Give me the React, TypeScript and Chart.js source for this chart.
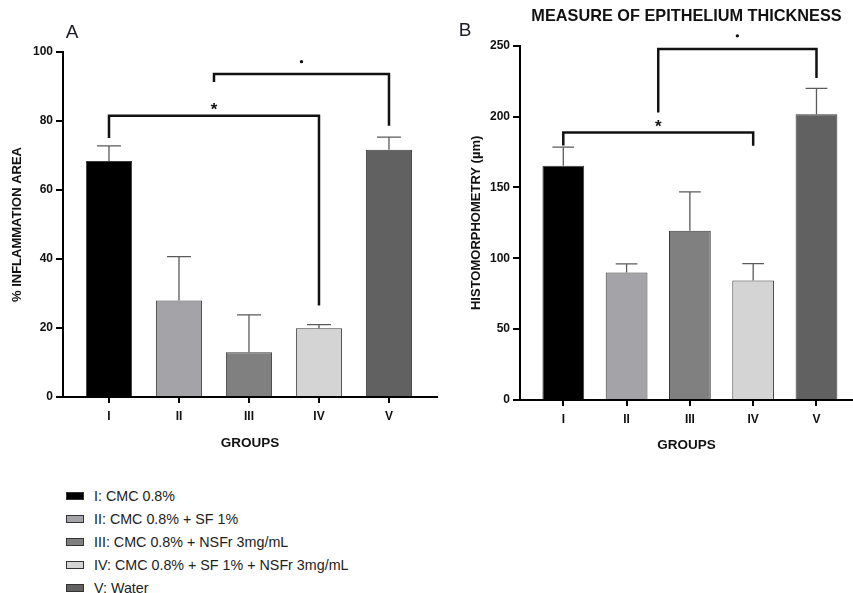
import React, { useEffect, useRef } from "react";
import { Chart, registerables } from "chart.js";

Chart.register(...registerables);
Chart.defaults.font.family = "'Liberation Sans', Arial, sans-serif";
Chart.defaults.color = "#111";

// ---------- data ----------
const groups = ["I", "II", "III", "IV", "V"];
const legendLabels = [
  "I: CMC 0.8%",
  "II: CMC 0.8% + SF 1%",
  "III: CMC 0.8% + NSFr 3mg/mL",
  "IV: CMC 0.8% + SF 1% + NSFr 3mg/mL",
  "V: Water",
];
const groupColors = ["#000000", "#a3a3a8", "#808080", "#d4d4d4", "#616161"];

const inflammationMean = [68.4, 28.0, 13.0, 19.9, 71.7];
const inflammationErr = [4.4, 12.7, 10.8, 1.1, 3.6];
const inflammationTicks = [0, 20, 40, 60, 80, 100];

const thicknessMean = [165.3, 89.9, 119.4, 84.3, 201.7];
const thicknessErr = [13.1, 6.1, 27.5, 12.0, 18.2];
const thicknessTicks = [0, 50, 100, 150, 200, 250];

// significance brackets (group index positions, values in axis units)
const inflammationBrackets = [
  { from: 0, to: 3, level: 81.5, leftEnd: 75.1, rightEnd: 26.5, mark: "*", markAt: 84.6 },
  { from: 1.5, to: 4, level: 93.6, leftEnd: 91.3, rightEnd: 78.6, mark: "•", markAt: 97.2 },
];
const thicknessBrackets = [
  { from: 0, to: 3, level: 188.8, leftEnd: 179.6, rightEnd: 179.4, mark: "*", markAt: 195.6 },
  { from: 1.5, to: 4, level: 247.7, leftEnd: 202.9, rightEnd: 227.2, mark: "•", markAt: 257 },
];

// ---------- plugins ----------
function errorBarPlugin(means: number[], errs: number[]) {
  return {
    id: "errorBars",
    afterDatasetsDraw(chart: any) {
      const { ctx } = chart;
      const xs = chart.scales.x;
      const ys = chart.scales.y;
      const meta = chart.getDatasetMeta(0);
      ctx.save();
      ctx.strokeStyle = "#5a5a5a";
      ctx.lineWidth = 1.3;
      means.forEach((m, i) => {
        const x = xs.getPixelForValue(i);
        const yb = ys.getPixelForValue(m);
        const yt = ys.getPixelForValue(m + errs[i]);
        const bw = meta.data[i] ? meta.data[i].width : 40;
        const half = bw * 0.26;
        ctx.beginPath();
        ctx.moveTo(x, yb);
        ctx.lineTo(x, yt);
        ctx.moveTo(x - half, yt);
        ctx.lineTo(x + half, yt);
        ctx.stroke();
      });
      ctx.restore();
    },
  };
}

function bracketPlugin(brackets: any[]) {
  return {
    id: "brackets",
    afterDraw(chart: any) {
      const { ctx } = chart;
      const xs = chart.scales.x;
      const ys = chart.scales.y;
      ctx.save();
      ctx.strokeStyle = "#111";
      ctx.fillStyle = "#111";
      ctx.lineWidth = 2.5;
      ctx.lineJoin = "miter";
      brackets.forEach((b) => {
        const x1 = xs.getPixelForValue(b.from);
        const x2 = xs.getPixelForValue(b.to);
        const y = ys.getPixelForValue(b.level);
        ctx.beginPath();
        ctx.moveTo(x1, ys.getPixelForValue(b.leftEnd));
        ctx.lineTo(x1, y);
        ctx.lineTo(x2, y);
        ctx.lineTo(x2, ys.getPixelForValue(b.rightEnd));
        ctx.stroke();
        const mx = xs.getPixelForValue((b.from + b.to) / 2);
        const my = ys.getPixelForValue(b.markAt);
        if (b.mark === "*") {
          ctx.font = "bold 17px 'Liberation Sans', Arial, sans-serif";
          ctx.textAlign = "center";
          ctx.textBaseline = "alphabetic";
          ctx.fillText("*", mx, my + 9.5);
        } else {
          ctx.beginPath();
          ctx.arc(mx, my, 1.7, 0, Math.PI * 2);
          ctx.fill();
        }
      });
      ctx.restore();
    },
  };
}

function letterPlugin(letter: string, x: number, y: number) {
  return {
    id: "panelLetter",
    afterDraw(chart: any) {
      const { ctx } = chart;
      ctx.save();
      ctx.font = "19px 'Liberation Sans', Arial, sans-serif";
      ctx.fillStyle = "#1c1c28";
      ctx.textAlign = "center";
      ctx.textBaseline = "middle";
      ctx.fillText(letter, x, y);
      ctx.restore();
    },
  };
}

function makeConfig(opts: {
  means: number[];
  errs: number[];
  ticks: number[];
  yMax: number;
  xMin: number;
  xMax: number;
  yTitle: string;
  yTitlePad: number;
  yWidth: number;
  xHeight: number;
  xTitlePad: number;
  padding: any;
  title?: any;
  brackets: any[];
  letter: string;
  letterX: number;
  letterY: number;
}) {
  const tickFont = { size: 12, weight: "bold" as const };
  return {
    type: "bar" as const,
    data: {
      datasets: [
        {
          data: opts.means.map((v, i) => ({ x: i, y: v })),
          backgroundColor: groupColors,
          borderColor: "#3a3a3a",
          borderWidth: 1,
          barPercentage: 0.66,
          categoryPercentage: 1,
        },
      ],
    },
    options: {
      responsive: false,
      animation: false as const,
      layout: { padding: opts.padding },
      plugins: {
        legend: { display: false },
        tooltip: { enabled: false },
        title: opts.title || { display: false },
      },
      scales: {
        x: {
          type: "linear" as const,
          min: opts.xMin,
          max: opts.xMax,
          offset: false,
          afterBuildTicks: (s: any) => {
            s.ticks = groups.map((_, i) => ({ value: i }));
          },
          afterFit: (s: any) => {
            s.height = opts.xHeight;
          },
          ticks: {
            callback: (v: any) => groups[Math.round(v)],
            font: tickFont,
            color: "#111",
            padding: 6,
            autoSkip: false,
            maxRotation: 0,
          },
          grid: {
            display: true,
            offset: false,
            drawOnChartArea: false,
            drawTicks: true,
            tickLength: 6,
            color: "#000",
            lineWidth: 2,
          },
          border: { display: true, color: "#000", width: 2 },
          title: {
            display: true,
            text: "GROUPS",
            font: { size: 13.5, weight: "bold" as const },
            color: "#111",
            padding: { top: 0, bottom: opts.xTitlePad },
          },
        },
        y: {
          min: 0,
          max: opts.yMax,
          afterBuildTicks: (s: any) => {
            s.ticks = opts.ticks.map((v) => ({ value: v }));
          },
          afterFit: (s: any) => {
            s.width = opts.yWidth;
          },
          ticks: { font: tickFont, color: "#111", padding: 3 },
          grid: {
            display: true,
            drawOnChartArea: false,
            drawTicks: true,
            tickLength: 7,
            color: "#000",
            lineWidth: 2,
          },
          border: { display: true, color: "#000", width: 2 },
          title: {
            display: true,
            text: opts.yTitle,
            font: { size: 13, weight: "bold" as const },
            color: "#111",
            padding: { top: opts.yTitlePad, bottom: 0 },
          },
        },
      },
    },
    plugins: [
      errorBarPlugin(opts.means, opts.errs),
      bracketPlugin(opts.brackets),
      letterPlugin(opts.letter, opts.letterX, opts.letterY),
    ],
  };
}

export default function App() {
  const refA = useRef<HTMLCanvasElement>(null);
  const refB = useRef<HTMLCanvasElement>(null);

  useEffect(() => {
    const chartA = new Chart(
      refA.current as HTMLCanvasElement,
      makeConfig({
        means: inflammationMean,
        errs: inflammationErr,
        ticks: inflammationTicks,
        yMax: 100,
        xMin: -0.657,
        xMax: 4.686,
        yTitle: "% INFLAMMATION AREA",
        yTitlePad: 10,
        yWidth: 63,
        xHeight: 63,
        xTitlePad: 9,
        padding: { left: 0, right: 3, top: 52, bottom: 0 },
        brackets: inflammationBrackets,
        letter: "A",
        letterX: 72,
        letterY: 33,
      }) as any
    );
    const chartB = new Chart(
      refB.current as HTMLCanvasElement,
      makeConfig({
        means: thicknessMean,
        errs: thicknessErr,
        ticks: thicknessTicks,
        yMax: 250,
        xMin: -0.684,
        xMax: 4.577,
        yTitle: "HISTOMORPHOMETRY (µm)",
        yTitlePad: 29,
        yWidth: 80,
        xHeight: 60,
        xTitlePad: 7,
        padding: { left: 0, right: 0, top: 0, bottom: 0 },
        title: {
          display: true,
          text: "MEASURE OF EPITHELIUM THICKNESS",
          fullSize: false,
          font: { size: 16.3, weight: "bold" },
          color: "#111",
          padding: { top: 7.2, bottom: 19 },
        },
        brackets: thicknessBrackets,
        letter: "B",
        letterX: 25,
        letterY: 31,
      }) as any
    );
    return () => {
      chartA.destroy();
      chartB.destroy();
    };
  }, []);

  return (
    <div
      style={{
        position: "absolute",
        left: 0,
        top: 0,
        width: 853,
        height: 593,
        background: "#fff",
        overflow: "hidden",
      }}
    >
      <canvas
        ref={refA}
        width={440}
        height={460}
        style={{ position: "absolute", left: 0, top: 0, display: "block" }}
      />
      <canvas
        ref={refB}
        width={413}
        height={460}
        style={{ position: "absolute", left: 440, top: 0, display: "block" }}
      />
      <div
        style={{
          position: "absolute",
          left: 66,
          top: 484,
          display: "flex",
          flexDirection: "column",
          fontFamily: "'Liberation Sans', Arial, sans-serif",
          fontSize: 14.3,
          color: "#222",
        }}
      >
        {legendLabels.map((label, i) => (
          <div
            key={label}
            style={{ height: 23, display: "flex", alignItems: "center", whiteSpace: "nowrap" }}
          >
            <span
              style={{
                display: "inline-block",
                width: 18,
                height: 8,
                background: groupColors[i],
                border: "1px solid #333",
                boxSizing: "border-box",
                marginRight: 10,
              }}
            />
            <span style={{ lineHeight: "16px" }}>{label}</span>
          </div>
        ))}
      </div>
    </div>
  );
}
